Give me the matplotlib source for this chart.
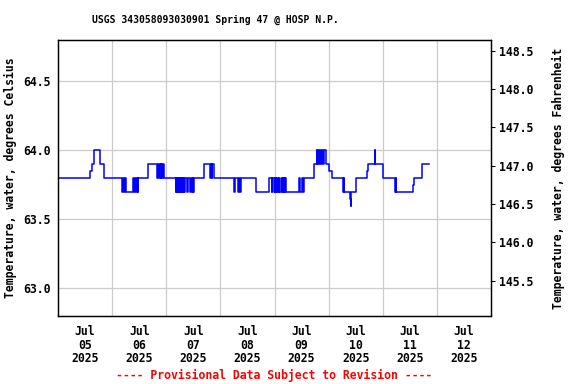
import pandas as pd
import matplotlib
matplotlib.use("Agg")
import matplotlib.pyplot as plt

TITLE = "USGS 343058093030901 Spring 47 @ HOSP N.P."
FOOTER = "---- Provisional Data Subject to Revision ----"
START = pd.Timestamp("2025-07-05 00:00")

# step breakpoints: hours since Jul 05 00:00 and water temperature (deg C)
step_hours = [
    0.0, 14.4, 15.1, 16.0, 18.8, 20.6,
    28.4, 28.9, 29.3, 29.7, 30.1,
    33.3, 33.8, 34.2, 34.6, 35.0, 35.3, 35.6,
    40.0,
    44.1, 44.4, 44.8, 45.1, 45.5, 45.8, 46.2, 46.5, 46.8,
    52.3, 52.5, 52.7, 52.9, 53.1, 53.3, 53.5, 53.7, 53.9, 54.1, 54.3,
    54.5, 54.7, 54.9, 55.1, 55.3, 55.5, 55.7, 55.9, 56.1, 56.3, 56.5,
    57.2, 57.6,
    58.7, 59.0, 59.3, 59.7, 60.0, 60.2,
    64.6, 67.6, 67.9, 68.2, 68.5, 69.0,
    77.9, 78.7, 79.7, 80.2, 80.6, 81.2,
    88.0, 93.7, 94.7, 94.9, 95.9, 96.1, 96.3, 96.5, 96.7, 96.9, 97.1,
    97.3, 97.5, 97.8, 98.1, 98.8, 99.3, 99.6, 99.9, 100.2, 100.5, 100.8, 101.1,
    107.0, 107.4, 108.2, 108.6, 109.0,
    113.4, 114.7, 115.0, 115.4, 115.7, 116.0, 116.8, 117.2, 117.6, 117.9,
    118.8, 120.0, 121.5,
    126.4, 126.7, 127.0, 129.3, 129.7, 129.9, 130.1,
    132.3, 136.8, 137.5, 140.4, 140.7, 144.2, 149.4, 149.7, 150.0,
    157.2, 157.8, 161.2, 164.5,
]
step_temp_c = [
    63.8, 63.85, 63.9, 64.0, 63.9, 63.8,
    63.7, 63.8, 63.7, 63.8, 63.7,
    63.8, 63.7, 63.8, 63.7, 63.8, 63.7, 63.8,
    63.9,
    63.8, 63.9, 63.8, 63.9, 63.8, 63.9, 63.8, 63.9, 63.8,
    63.7, 63.8, 63.7, 63.8, 63.7, 63.8, 63.7, 63.8, 63.7, 63.8, 63.7,
    63.8, 63.7, 63.8, 63.7, 63.8, 63.7, 63.8, 63.7, 63.8, 63.7, 63.8,
    63.7, 63.8,
    63.7, 63.8, 63.7, 63.8, 63.7, 63.8,
    63.9, 63.8, 63.9, 63.8, 63.9, 63.8,
    63.7, 63.8, 63.7, 63.8, 63.7, 63.8,
    63.7, 63.8, 63.7, 63.8, 63.7, 63.8, 63.7, 63.8, 63.7, 63.8, 63.7,
    63.8, 63.7, 63.8, 63.7, 63.8, 63.7, 63.8, 63.7, 63.8, 63.7, 63.8, 63.7,
    63.8, 63.7, 63.8, 63.7, 63.8,
    63.9, 64.0, 63.9, 64.0, 63.9, 64.0, 63.9, 64.0, 63.9, 64.0,
    63.9, 63.85, 63.8,
    63.7, 63.8, 63.7, 63.65, 63.6, 63.65, 63.7,
    63.8, 63.85, 63.9, 64.0, 63.9, 63.8, 63.7, 63.8, 63.7,
    63.75, 63.8, 63.9, 63.9,
]

day_labels = ["Jul\n05\n2025", "Jul\n06\n2025", "Jul\n07\n2025", "Jul\n08\n2025",
              "Jul\n09\n2025", "Jul\n10\n2025", "Jul\n11\n2025", "Jul\n12\n2025"]
c_ticks = [63.0, 63.5, 64.0, 64.5]
f_ticks = [145.5, 146.0, 146.5, 147.0, 147.5, 148.0, 148.5]
C_LIM = (62.8, 64.8)

MONO = "DejaVu Sans Mono"
FS = 8.3

times = START + pd.to_timedelta(step_hours, unit="h")

fig = plt.figure(figsize=(5.76, 3.84), dpi=100)
ax = fig.add_axes([58 / 576, 68 / 384, 433 / 576, 276 / 384])
ax.plot(times, step_temp_c, drawstyle="steps-post", color="#0000ff", lw=1.1)

# gridlines at midnight, labels at noon
days = pd.date_range(START, periods=9, freq="D")
ax.set_xlim(days[0], days[-1])
ax.set_xticks(days[1:-1], minor=True)
ax.set_xticks(days[:-1] + pd.Timedelta(hours=12))
ax.set_xticklabels(day_labels, family=MONO, weight="bold", fontsize=FS, linespacing=1.05)
ax.grid(True, which="minor", axis="x", color="#cccccc", lw=0.9)
ax.tick_params(axis="x", which="both", length=0, pad=6.5)

ax.set_ylim(*C_LIM)
ax.set_yticks(c_ticks)
ax.set_yticklabels([f"{v:.1f}" for v in c_ticks], family=MONO, weight="bold", fontsize=FS)
ax.grid(True, which="major", axis="y", color="#cccccc", lw=0.9)
ax.tick_params(axis="y", length=0, pad=5)
ax.set_ylabel("Temperature, water, degrees Celsius", family=MONO, weight="bold",
              fontsize=FS, labelpad=5)
ax.set_axisbelow(True)

axr = ax.twinx()
axr.set_ylim(C_LIM[0] * 1.8 + 32, C_LIM[1] * 1.8 + 32)
axr.set_yticks(f_ticks)
axr.set_yticklabels([f"{v:.1f}" for v in f_ticks], family=MONO, weight="bold", fontsize=FS)
axr.tick_params(axis="y", length=3, width=0.8, pad=3)
axr.set_ylabel("Temperature, water, degrees Fahrenheit", family=MONO, weight="bold",
               fontsize=FS, labelpad=13)

for a in (ax, axr):
    for s in a.spines.values():
        s.set_linewidth(0.9)

fig.text(215.5 / 576, 1 - 20 / 384, TITLE, family=MONO, weight="bold", fontsize=7,
         ha="center", va="center")
fig.text(274 / 576, 1 - 375 / 384, FOOTER, family=MONO, weight="bold", fontsize=FS,
         color="#ff0000", ha="center", va="center")

fig.savefig("out.png", dpi=100)
